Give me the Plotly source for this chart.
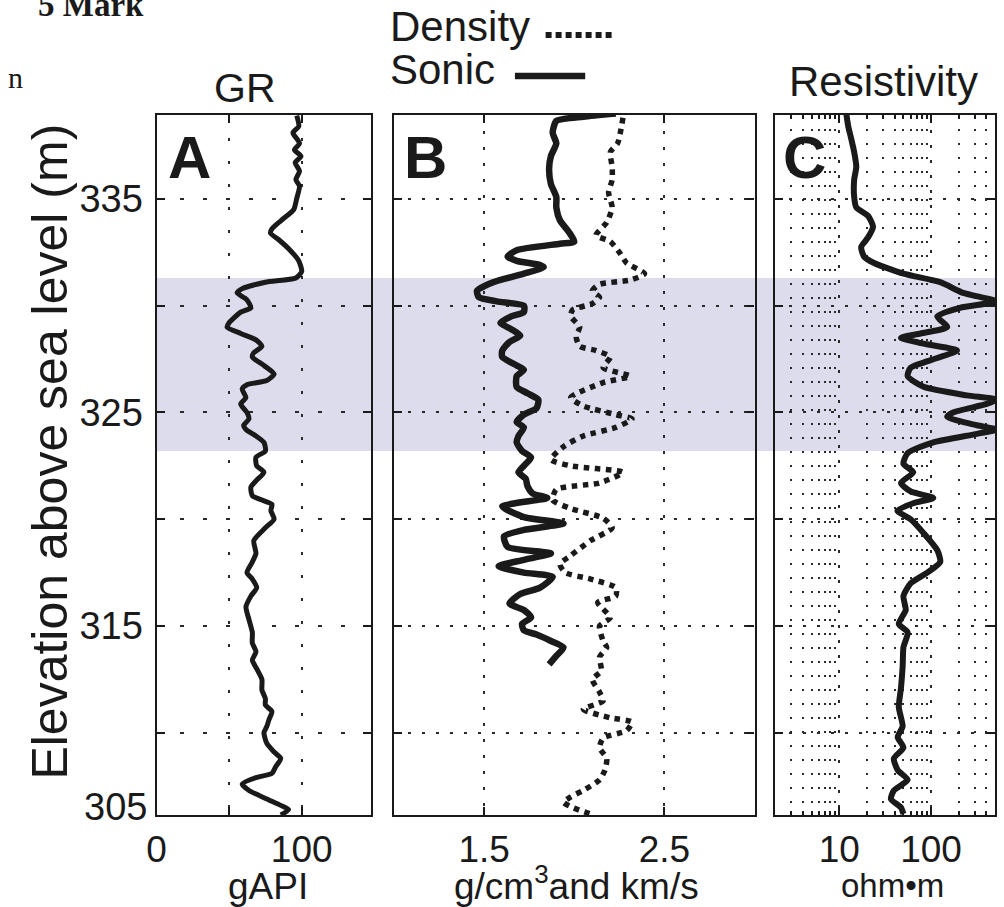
import numpy as np
import plotly.graph_objects as go

W, H = 1004, 907

# ---------------- data ----------------
gr_depth = [338.9, 338.4, 338.1, 337.6, 337.3, 337.0, 336.7, 336.3, 335.9, 335.6,
            335.0, 334.5, 334.0, 333.6, 333.4, 333.1, 332.6, 332.1, 331.6, 331.3,
            331.1, 330.8, 330.6, 330.3, 329.9, 329.7, 329.2, 329.0, 328.7, 328.4,
            328.1, 327.8, 327.6, 327.2, 326.8, 326.5, 326.3, 326.1, 325.7, 325.4,
            325.0, 324.7, 324.4, 324.2, 323.9, 323.6, 323.2, 322.9, 322.5, 322.2,
            321.8, 321.5, 321.1, 320.9, 320.7, 320.4, 320.0, 319.6, 319.0, 318.4,
            318.0, 317.5, 317.2, 316.8, 316.4, 315.9, 315.3, 314.7, 314.2, 313.8,
            313.4, 313.0, 312.5, 312.0, 311.6, 311.3, 311.0, 310.6, 310.3, 310.0,
            309.5, 309.1, 308.8, 308.4, 308.1, 307.9, 307.6, 307.3, 306.9, 306.6,
            306.4, 306.15]
gr_value = [96.6, 98, 94, 98.5, 95, 99.5, 95.5, 98.5, 96, 98.5,
            96.5, 94.5, 86, 79.5, 78.5, 84, 92, 98, 100, 96,
            75, 59, 55.5, 62, 65, 58, 50, 48.6, 58, 68.5,
            72.6, 67, 66, 74, 81, 76, 62.3, 59, 61.6, 58,
            62.3, 63.7, 60, 61.6, 68.5, 74, 75, 68.5, 69, 74,
            68.5, 65, 66, 72.6, 79.5, 78.8, 81, 75, 67, 68.5,
            66, 62.3, 66, 69, 65, 61.6, 63.7, 66, 66, 68.5,
            66, 69, 72.6, 72.6, 75, 75, 79.5, 77.4, 76, 74,
            76, 81, 85.6, 82, 79.5, 68.5, 59, 63.7, 76, 85.6,
            91, 85.6]

sonic_depth = [339.0, 338.85, 338.65, 338.1, 337.6, 337.0, 336.4, 335.7, 335.1, 334.6,
               334.0, 333.45, 333.0, 332.9, 332.6, 332.3, 332.1, 331.9, 331.8, 331.5,
               331.1, 330.7, 330.4, 330.2, 330.0, 329.7, 329.5, 329.2, 328.9, 328.6,
               328.3, 327.9, 327.6, 327.2, 327.0, 326.7, 326.2, 325.9, 325.6, 325.2,
               324.9, 324.55, 324.3, 323.9, 323.6, 323.2, 322.9, 322.5, 322.2, 321.9,
               321.55, 321.2, 321.0, 320.6, 320.1, 319.8, 319.5, 319.2, 318.7, 318.4,
               318.1, 317.8, 317.5, 317.3, 316.8, 316.5, 316.05, 315.75, 315.4, 315.1,
               314.8, 314.6, 314.3, 314.0, 313.6, 313.2]
sonic_value = [2.23, 2.05, 1.90, 1.88, 1.90, 1.87, 1.86, 1.87, 1.90, 1.90,
               1.92, 1.97, 2.00, 1.92, 1.68, 1.63, 1.68, 1.81, 1.83, 1.72,
               1.55, 1.46, 1.47, 1.57, 1.72, 1.72, 1.65, 1.59, 1.65, 1.70,
               1.64, 1.60, 1.60, 1.68, 1.72, 1.68, 1.68, 1.74, 1.80, 1.79,
               1.72, 1.68, 1.72, 1.69, 1.68, 1.71, 1.76, 1.72, 1.69, 1.73,
               1.74, 1.77, 1.85, 1.60, 1.72, 1.94, 1.72, 1.61, 1.63, 1.87,
               1.72, 1.58, 1.72, 1.88, 1.81, 1.70, 1.64, 1.72, 1.76, 1.71,
               1.72, 1.79, 1.87, 1.94, 1.90, 1.86]

density_depth = [338.8, 337.6, 337.2, 336.5, 335.9, 335.3, 334.6, 333.9, 333.3, 333.0,
                 332.5, 332.0, 331.5, 331.2, 331.0, 330.7, 330.4, 330.1, 329.8, 329.5,
                 329.0, 328.55, 328.1, 327.9, 327.6, 327.1, 326.7, 326.4, 325.7, 325.3,
                 324.9, 324.7, 324.3, 323.9, 323.4, 322.8, 322.5, 322.2, 321.7, 321.4,
                 320.9, 320.5, 320.05, 319.6, 319.0, 318.3, 317.9, 317.5, 317.2, 316.8,
                 316.4, 316.1, 315.4, 315.0, 314.3, 314.0, 313.55, 312.9, 312.5, 311.9,
                 311.5, 311.1, 310.7, 310.5, 310.1, 309.75, 309.3, 308.8, 308.25, 307.8,
                 307.3, 307.0, 306.75, 306.5, 306.2]
density_value = [2.27, 2.24, 2.20, 2.21, 2.21, 2.19, 2.21, 2.18, 2.12, 2.20,
                 2.25, 2.29, 2.39, 2.31, 2.14, 2.10, 2.14, 2.10, 1.99, 1.98,
                 2.03, 2.01, 2.03, 2.12, 2.20, 2.16, 2.31, 2.16, 1.98, 2.05,
                 2.23, 2.32, 2.23, 2.05, 1.94, 1.87, 1.98, 2.27, 2.14, 1.90,
                 1.88, 1.98, 2.16, 2.21, 2.09, 1.98, 1.92, 1.95, 2.09, 2.23,
                 2.23, 2.13, 2.20, 2.14, 2.16, 2.18, 2.14, 2.15, 2.10, 2.14,
                 2.16, 2.05, 2.20, 2.32, 2.29, 2.16, 2.14, 2.18, 2.17, 2.14,
                 2.05, 1.98, 1.94, 1.99, 2.09]

res_depth = [339.0, 338.4, 337.8, 337.2, 336.5, 335.9, 335.1, 334.6, 334.2, 333.7,
             333.2, 332.75, 332.3, 332.0, 331.5, 331.1, 330.6, 330.2, 329.9, 329.5,
             329.0, 328.7, 328.5, 328.25, 327.9, 327.55, 327.1, 326.7, 326.2, 325.8,
             325.6, 325.4, 325.0, 324.8, 324.4, 324.2, 324.0, 323.6, 323.1, 322.6,
             322.2, 321.7, 321.3, 321.0, 320.75, 320.4, 320.0, 319.35, 318.55, 318.0,
             317.5, 317.0, 316.4, 315.75, 315.1, 314.7, 314.0, 313.1, 312.1, 311.2,
             310.3, 309.8, 309.3, 308.8, 308.25, 307.8, 307.3, 306.9, 306.5, 306.2]
res_value = [11.9, 12.5, 13.5, 14.5, 15.3, 14.5, 14.5, 15.3, 20.6, 23.3,
             20.6, 17.3, 18.6, 23.9, 50, 126, 224, 520, 207, 117,
             150, 77, 47, 77, 192, 117, 60, 55.6, 83, 246,
             520, 405, 174, 150, 317, 520, 317, 106, 55.6, 50,
             64, 47, 60, 106, 64, 43, 60, 83, 117, 126,
             91, 60, 50, 53, 44.5, 55.6, 50, 49, 47, 44.5,
             49, 43.3, 50, 39.3, 43.3, 55.6, 39.3, 36.5, 47, 50]

band_top, band_bottom = 331.3, 323.2
y_range = [306.15, 338.93]
y_grid = [310, 315, 320, 325, 330, 335]
y_labels = ["", "315", "", "325", "", "335"]

gr_ticks, gr_ticktext = [0, 50, 100], ["0", "", "100"]
b_ticks, b_ticktext = [1.5, 2.5], ["1.5", "2.5"]
c_ticks, c_ticktext = [10, 100], ["10", "100"]
c_minor = [2, 3, 4, 5, 6, 7, 8, 9, 20, 30, 40, 50, 60, 70, 80, 90, 200, 300, 400]

# ---------------- layout helpers ----------------
def px(x):
    return x / W


def py(y):
    return 1 - y / H


FONT = "Liberation Sans, Arial, Helvetica, sans-serif"
INK = "#1a1a1a"
GRID = "#2a2a2a"

domA = [px(148), px(365)]
domB = [px(388), px(752)]
domC = [px(773), px(995)]
domY = [py(815), py(115)]

fig = go.Figure()

fig.add_trace(go.Scatter(x=gr_value, y=gr_depth, mode="lines",
                         line=dict(color=INK, width=5, shape="spline", smoothing=0.6),
                         xaxis="x", yaxis="y", name="GR"))
fig.add_trace(go.Scatter(x=sonic_value, y=sonic_depth, mode="lines",
                         line=dict(color=INK, width=6.5, shape="spline", smoothing=0.6),
                         xaxis="x2", yaxis="y2", name="Sonic"))
fig.add_trace(go.Scatter(x=density_value, y=density_depth, mode="lines",
                         line=dict(color=INK, width=5.5, dash="dot", shape="spline", smoothing=0.6),
                         xaxis="x2", yaxis="y2", name="Density"))
fig.add_trace(go.Scatter(x=res_value, y=res_depth, mode="lines",
                         line=dict(color=INK, width=6, shape="spline", smoothing=0.6),
                         xaxis="x3", yaxis="y3", name="Resistivity"))

tickfont = dict(family=FONT, size=37, color=INK)


def xaxis(domain, rng, tickvals, ticktext, griddash, anchor, **kw):
    d = dict(domain=domain, range=rng, tickvals=tickvals, ticktext=ticktext,
             showgrid=True, gridcolor=GRID, gridwidth=2.2, griddash=griddash,
             zeroline=False, showline=True, linecolor=INK, linewidth=2.2,
             mirror="allticks", ticks="inside", ticklen=8, tickwidth=2,
             tickcolor=INK, tickfont=tickfont, anchor=anchor,
             ticklabelstandoff=0, fixedrange=True)
    d.update(kw)
    return d


def yaxis(domain, anchor, griddash, show_labels):
    return dict(domain=domain, range=y_range, tickvals=y_grid, ticktext=y_labels,
                showticklabels=show_labels, showgrid=True, gridcolor=GRID,
                gridwidth=2.2, griddash=griddash, zeroline=False, showline=True,
                linecolor=INK, linewidth=2.2, mirror="allticks", ticks="inside",
                ticklen=8, tickwidth=2, tickcolor=INK,
                tickfont=dict(family=FONT, size=38, color=INK),
                anchor=anchor, ticklabelstandoff=4, fixedrange=True)


fig.update_layout(
    width=W, height=H,
    margin=dict(l=0, r=0, t=0, b=0),
    paper_bgcolor="white",
    plot_bgcolor="rgba(0,0,0,0)",
    showlegend=False,
    xaxis=xaxis(domA, [0, 148], gr_ticks, gr_ticktext, "3px,20px", "y"),
    xaxis2=xaxis(domB, [1.0, 3.0], b_ticks, b_ticktext, "3px,13px", "y2"),
    xaxis3=xaxis(domC, [np.log10(2), np.log10(500)], c_ticks, c_ticktext, "3px,12px", "y3",
                 type="log",
                 minor=dict(tickvals=c_minor, showgrid=True, gridcolor=GRID,
                            gridwidth=2, griddash="2px,12px", ticks="inside",
                            ticklen=4, tickwidth=1.5, tickcolor=INK)),
    yaxis=yaxis(domY, "x", "4px,19px", True),
    yaxis2=yaxis(domY, "x2", "3px,11px", False),
    yaxis3=yaxis(domY, "x3", "3px,11px", False),
)

# shaded interval across all three tracks
fig.add_shape(type="rect", xref="paper", yref="y", x0=domA[0], x1=domC[1],
              y0=band_bottom, y1=band_top, fillcolor="#dcdcec", line=dict(width=0),
              layer="below")

# legend swatches for panel B
fig.add_shape(type="line", xref="paper", yref="paper", x0=px(541), x1=px(609),
              y0=py(35), y1=py(35), line=dict(color=INK, width=6, dash="6px,4px"))
fig.add_shape(type="line", xref="paper", yref="paper", x0=px(510), x1=px(581),
              y0=py(76), y1=py(76), line=dict(color=INK, width=6.5))


def ann(text, x, y, size, xanchor="center", yanchor="middle", family=FONT, **kw):
    fig.add_annotation(text=text, x=px(x), y=py(y), xref="paper", yref="paper",
                       xanchor=xanchor, yanchor=yanchor, showarrow=False,
                       font=dict(family=family, size=size, color=INK), **kw)


serif = "Liberation Serif, Times New Roman, serif"
ann("<b>5 Mark</b>", 26, 5, 33, xanchor="left", family=serif)
ann("n", -4, 78, 30, xanchor="left", family=serif)

ann("Density", 382, 27, 42, xanchor="left")
ann("Sonic", 382, 69, 42, xanchor="left")
ann("GR", 237, 88, 41)
ann("Resistivity", 882, 81, 42)

ann("<b>A</b>", 158, 157, 60, xanchor="left")
ann("<b>B</b>", 396, 157, 60, xanchor="left")
ann("<b>C</b>", 779, 157, 60, xanchor="left")

ann("gAPI", 261, 886, 37)
ann("g/cm<sup>3</sup>and km/s", 572, 883, 37)
ann("ohm\u2022m", 891, 885, 33)

ann("305", 140, 807, 38, xanchor="right")
ann("Elevation above sea level (m)", 40, 452, 50, textangle=-90)

fig.write_html("out.html")
